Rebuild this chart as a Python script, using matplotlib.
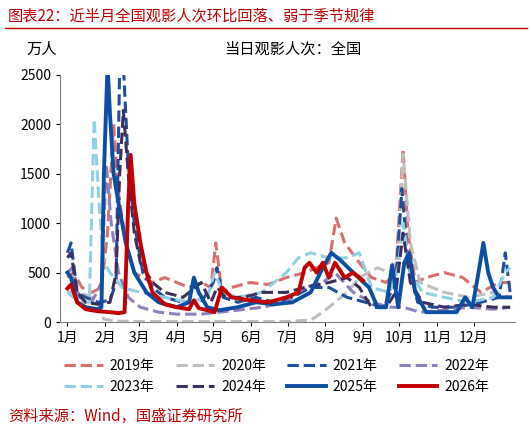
import matplotlib
matplotlib.use("Agg")
import matplotlib.pyplot as plt
import numpy as np

plt.rcParams['font.family'] = ['Noto Sans CJK SC', 'DejaVu Sans']

month_labels = ['1月','2月','3月','4月','5月','6月','7月','8月','9月','10月','11月','12月']
month_starts = [0,31,59,90,120,151,181,212,243,273,304,334]

s2019_d = [0,5,12,20,28,33,38,42,48,55,62,70,80,90,100,110,118,122,127,135,150,165,180,195,205,215,221,228,240,250,262,270,276,280,286,295,310,325,340,355,364]
s2019_v = [450,500,350,300,350,900,2000,1300,800,500,450,400,450,400,350,400,350,800,300,350,400,380,450,500,550,600,1050,800,600,450,400,500,1750,900,400,450,500,450,300,400,400]
s2020_d = [0,10,20,25,30,40,60,90,120,150,180,200,210,220,230,240,255,265,272,276,282,290,310,330,350,364]
s2020_v = [300,300,250,200,30,10,5,5,5,5,5,20,100,200,300,450,550,500,700,1700,800,400,300,250,300,250]
s2021_d = [0,3,8,15,25,35,40,43,46,50,55,62,70,80,95,110,120,123,128,140,155,170,185,200,215,230,245,260,270,275,280,288,300,320,340,355,360,364]
s2021_v = [700,800,300,250,200,220,400,2600,2600,1600,1000,500,350,250,200,200,400,550,250,200,250,200,250,350,350,250,200,150,400,1350,600,200,150,150,200,250,700,300]
s2022_d = [0,4,10,20,28,32,36,42,50,60,75,90,110,125,140,160,180,195,210,220,235,250,265,276,290,310,330,350,364]
s2022_v = [500,550,250,200,400,1600,1000,500,250,150,100,80,80,100,120,150,200,350,400,500,300,200,150,150,100,120,150,130,150]
s2023_d = [0,5,12,18,22,26,30,35,45,60,80,100,115,121,128,140,160,180,190,200,215,230,240,250,265,272,276,282,292,310,330,350,360,364]
s2023_v = [300,250,200,200,2050,1200,600,500,350,300,250,200,250,500,300,250,300,500,650,700,650,650,700,350,300,550,1000,500,300,250,200,250,500,550]
s2024_d = [0,3,8,15,25,35,40,43,46,50,55,60,70,80,95,105,110,118,123,130,145,160,180,195,215,230,240,250,262,270,276,282,292,310,330,350,364]
s2024_v = [650,700,300,200,180,200,500,1500,2140,1500,900,600,400,300,250,350,400,200,350,250,250,300,300,350,400,450,350,150,150,300,900,400,200,150,180,150,150]
s2025_d = [0,3,8,15,25,28,30,33,35,38,42,48,55,65,75,90,100,104,108,115,125,140,155,170,185,200,210,217,225,235,248,255,262,267,272,277,281,286,295,305,320,327,333,338,342,346,350,355,364]
s2025_v = [500,450,200,150,130,150,1500,2600,2100,1500,1200,800,500,300,200,150,200,450,300,150,120,150,200,180,200,300,550,700,620,500,350,150,150,575,150,600,700,300,100,100,100,250,150,500,800,500,350,250,250]
s2026_d = [0,3,8,15,25,35,42,47,50,52,55,60,65,70,80,90,100,104,108,115,121,127,135,150,165,180,190,195,199,205,210,215,220,228,235,243]
s2026_v = [340,380,200,130,110,100,90,100,1200,1690,1200,800,500,300,180,150,130,220,140,120,100,350,250,220,200,250,300,550,600,500,600,450,600,450,500,420]

series = [
    ('2019年', s2019_d, s2019_v, '#d9706f', '--', 2.2),
    ('2020年', s2020_d, s2020_v, '#bfbfbf', '--', 2.2),
    ('2021年', s2021_d, s2021_v, '#1f4e9c', '--', 2.2),
    ('2022年', s2022_d, s2022_v, '#8f7fbf', '--', 2.2),
    ('2023年', s2023_d, s2023_v, '#92cfe0', '--', 2.2),
    ('2024年', s2024_d, s2024_v, '#3b2f5c', '--', 2.2),
    ('2025年', s2025_d, s2025_v, '#0b4ea2', '-', 2.8),
    ('2026年', s2026_d, s2026_v, '#c00000', '-', 2.8),
]

fig = plt.figure(figsize=(5.32, 4.30), dpi=100)
ax = fig.add_axes([0.113, 0.251, 0.855, 0.575])
for name, d, v, c, ls, lw in series:
    ax.plot(d, v, color=c, ls=ls, lw=lw, label=name)

ax.set_ylim(0, 2500)
ax.set_xlim(-6, 368)
ax.set_yticks(range(0, 2501, 500))
ax.set_xticks(month_starts)
ax.set_xticklabels(month_labels)
ax.tick_params(labelsize=10, length=3)
for s in ['top', 'right']:
    ax.spines[s].set_visible(False)
ax.spines['left'].set_color('#808080')
ax.spines['bottom'].set_color('#808080')

fig.text(0.05, 0.875, '万人', fontsize=11)
fig.text(0.55, 0.875, '当日观影人次：全国', fontsize=11, ha='center')
fig.text(0.015, 0.962, '图表22：近半月全国观影人次环比回落、弱于季节规律', fontsize=11, color='#c00000', style='italic', va='center')
fig.add_artist(plt.Line2D([0.01, 0.99], [0.935, 0.935], color='#c00000', lw=1))
fig.text(0.015, 0.032, '资料来源：Wind，国盛证券研究所', fontsize=11, color='#c00000', style='italic', va='center')

h, l = ax.get_legend_handles_labels()
order = [0, 4, 1, 5, 2, 6, 3, 7]
fig.legend([h[i] for i in order], [l[i] for i in order], loc='center', bbox_to_anchor=(0.52, 0.125), ncol=4,
           frameon=False, fontsize=10, handlelength=2.8, columnspacing=1.5, handletextpad=0.5)
fig.savefig('out.png', dpi=100)
